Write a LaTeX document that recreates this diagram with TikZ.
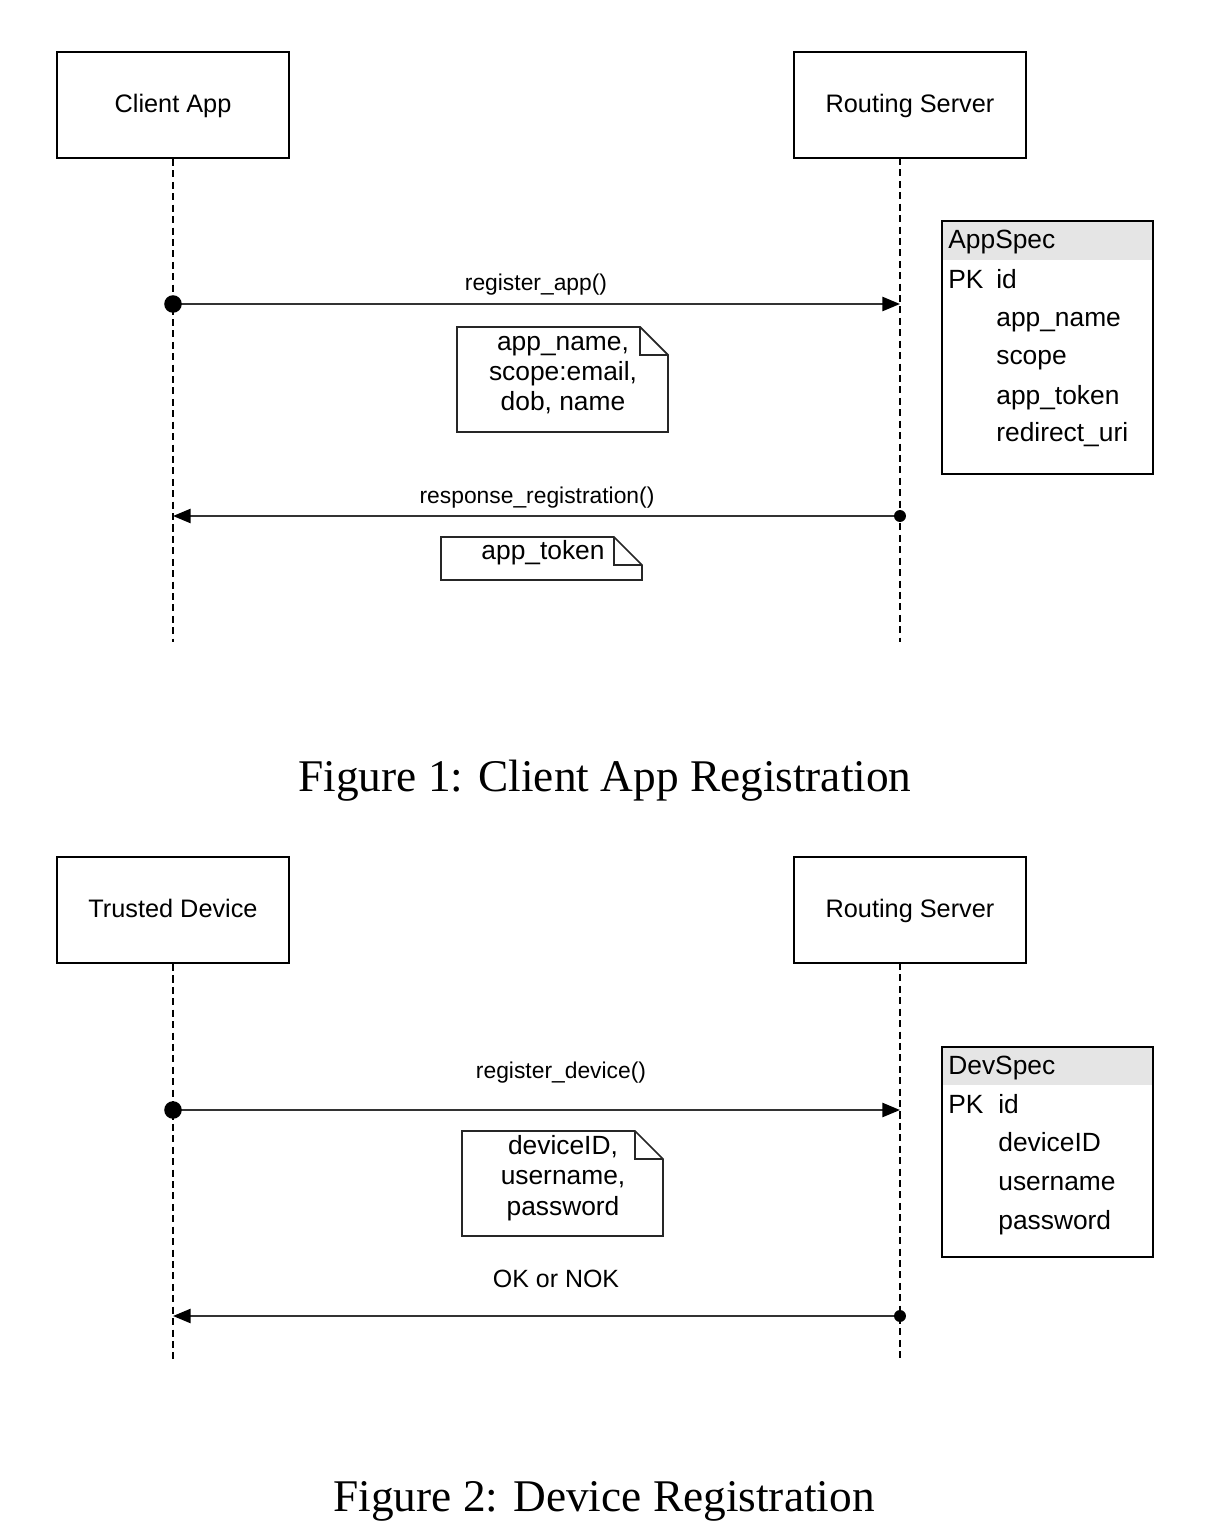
\documentclass[tikz,border=0pt]{standalone}
\usepackage{fontspec}
\setmainfont{Liberation Serif}
\setsansfont{Liberation Sans}
\usepackage{tikz}
\usetikzlibrary{calc,positioning,arrows.meta}

\tikzset{
  actor/.style={draw, line width=1.2pt, minimum width=4.64cm, minimum height=2.12cm,
    text height=11pt, text depth=3pt, font=\sffamily\fontsize{14.4}{17}\selectfont},
  lifeline/.style={line width=0.9pt, dash pattern=on 4pt off 2.5pt},
  msg/.style={line width=1.2pt, black!80, -{Triangle[length=10pt,width=8pt,fill=black,color=black]}},
  msglabel/.style={text height=10pt, text depth=3pt, font=\sffamily\fontsize{13}{15}\selectfont},
  notebox/.style={line width=1pt, black!85},
  notetext/.style={align=center, font=\sffamily\fontsize{15}{17.3}\selectfont},
  field/.style={anchor=west, inner sep=0pt, text height=11pt, text depth=3pt,
    font=\sffamily\fontsize{15}{18}\selectfont},
  caption/.style={font=\fontsize{25.8}{30}\selectfont}
}

\begin{document}
\begin{tikzpicture}[x=0.02cm, y=-0.02cm]
			\useasboundingbox (0,0) rectangle (1226,1534);
			% Figure 1
			\node[actor] (client) at (173,105) {Client App};
			\node[actor] (server) at (910,105) {Routing Server};
			\coordinate (cEnd) at (173,642);
			\coordinate (sTop) at (900,158);
			\coordinate (sEnd) at (900,642);
			\draw[lifeline] (client.south) -- (cEnd);
			\draw[lifeline] (sTop) -- (sEnd);
			\coordinate (A1) at (173,304);
			\coordinate (B1) at (900,304);
			\coordinate (A2) at (173,516);
			\coordinate (B2) at (900,516);
			\draw[msg] (A1) -- (B1);
			\fill (A1) circle (5pt);
			\draw[msg] (B2) -- (A2);
			\fill (B2) circle (3.4pt);
			\node[msglabel] (reg) at (536,284) {register\_app()};
			\node[msglabel] (resp) at (537,497) {response\_registration()};
			% notes
			\draw[notebox] (457,327) -- (640,327) -- (668,355) -- (668,432) -- (457,432) -- cycle;
			\draw[notebox] (640,327) -- (640,355) -- (668,355);
			\node[notetext] (n1) at (563,375) {app\_name,\\scope:email,\\dob, name};
			\draw[notebox] (441,537) -- (614,537) -- (642,565) -- (642,580) -- (441,580) -- cycle;
			\draw[notebox] (614,537) -- (614,565) -- (642,565);
			\node[notetext] (n2) at (543,553) {app\_token};
			% table
			\fill[black!10] (942,221) rectangle (1153,260);
			\draw[line width=1.2pt] (942,221) rectangle (1153,474);
			\node[field] (t0) at (948,241) {AppSpec};
			\node[field] (pk) at (948,281) {PK};
			\node[field] at (996,281) {id};
			\node[field] at (996,319) {app\_name};
			\node[field] at (996,357) {scope};
			\node[field] at (996,397) {app\_token};
			\node[field] at (996,434) {redirect\_uri};
			\node[caption] (cap1) at (605,781) {Figure 1: Client App Registration};
			% Figure 2
			\node[actor] (device) at (173,910) {Trusted Device};
			\node[actor] (server2) at (910,910) {Routing Server};
			\coordinate (dEnd) at (173,1360);
			\coordinate (s2Top) at (900,963);
			\coordinate (s2End) at (900,1360);
			\draw[lifeline] (device.south) -- (dEnd);
			\draw[lifeline] (s2Top) -- (s2End);
			\coordinate (A3) at (173,1110);
			\coordinate (B3) at (900,1110);
			\coordinate (A4) at (173,1316);
			\coordinate (B4) at (900,1316);
			\draw[msg] (A3) -- (B3);
			\fill (A3) circle (5pt);
			\draw[msg] (B4) -- (A4);
			\fill (B4) circle (3.4pt);
			\node[msglabel] (regdev) at (561,1072) {register\_device()};
			\node[msglabel, font=\sffamily\fontsize{14.2}{17}\selectfont] (ok) at (556,1281) {OK or NOK};
			\draw[notebox] (462,1131) -- (635,1131) -- (663,1159) -- (663,1236) -- (462,1236) -- cycle;
			\draw[notebox] (635,1131) -- (635,1159) -- (663,1159);
			\node[notetext] (n3) at (563,1178) {deviceID,\\username,\\password};
			\fill[black!10] (942,1047) rectangle (1153,1085);
			\draw[line width=1.2pt] (942,1047) rectangle (1153,1257);
			\node[field] (t1) at (948,1067) {DevSpec};
			\node[field] (pk2) at (948,1106) {PK};
			\node[field] at (998,1106) {id};
			\node[field] at (998,1144) {deviceID};
			\node[field] at (998,1183) {username};
			\node[field] at (998,1222) {password};
			\node[caption] (cap2) at (604,1501) {Figure 2: Device Registration};
	\end{tikzpicture}
\end{document}
